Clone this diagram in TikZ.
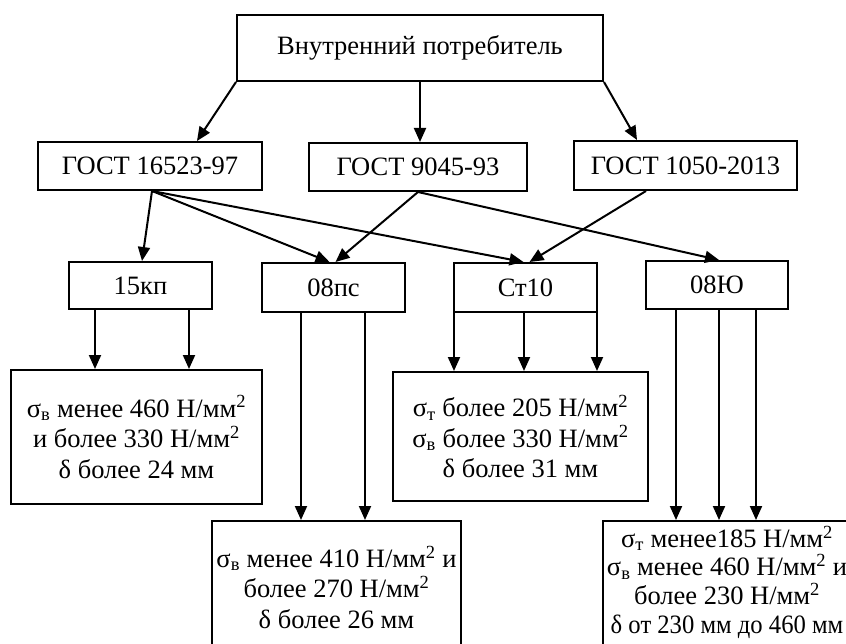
\documentclass[tikz,border=0pt]{standalone}
\usepackage{fontspec}
\usepackage{graphicx}
\setmainfont{Liberation Serif}
\usetikzlibrary{arrows.meta}
\begin{document}
\begin{tikzpicture}[x=1pt,y=-1pt,
  txt/.style={font=\fontsize{26.5}{30.5}\selectfont,align=center,inner sep=0pt},
  box/.style={txt,draw,line width=2pt},
  frame/.style={draw,line width=2pt,inner sep=0pt},
  arr/.style={line width=2pt,-{Triangle[length=14pt,width=12pt]}}]
\useasboundingbox (0,0) rectangle (846,644);
\clip (0,0) rectangle (846,644);
% top
\node[box,minimum width=366pt,minimum height=66pt] (top) at (420,48) {Внутренний потребитель};
% standards
\node[box,minimum width=224pt,minimum height=48pt] (g1) at (150,166) {ГОСТ 16523-97};
\node[box,minimum width=218pt,minimum height=48pt] (g2) at (418,167) {ГОСТ 9045-93};
\node[box,minimum width=223pt,minimum height=49pt] (g3) at (685.5,165.5) {ГОСТ 1050-2013};
% steels
\node[box,minimum width=143pt,minimum height=47pt] (s1) at (140.5,285.5) {15кп};
\node[box,minimum width=143pt,minimum height=49pt] (s2) at (333.5,287.5) {08пс};
\node[box,minimum width=143pt,minimum height=49pt] (s3) at (525.5,287.5) {Ст10};
\node[box,minimum width=142pt,minimum height=48pt] (s4) at (717,285) {08Ю};
% results
\node[box,minimum width=251pt,minimum height=134pt] (r1) at (136.5,437)
  {σ\textsubscript{в} менее 460 Н/мм\textsuperscript{2}\\и более 330 Н/мм\textsuperscript{2}\\δ более 24 мм};
\node[box,minimum width=255pt,minimum height=129pt] (r3) at (520.5,436.5)
  {σ\textsubscript{т} более 205 Н/мм\textsuperscript{2}\\σ\textsubscript{в} более 330 Н/мм\textsuperscript{2}\\δ более 31 мм};
\node[frame,minimum width=249pt,minimum height=140pt] (r2) at (336.5,591) {};
\node[txt] (r2t) at (336.5,587)
  {σ\textsubscript{в} менее 410 Н/мм\textsuperscript{2} и\\более 270 Н/мм\textsuperscript{2}\\δ более 26 мм};
\node[frame,minimum width=250pt,minimum height=140pt] (r4) at (728,591) {};
\node[txt,font=\fontsize{26.5}{28.7}\selectfont] (r4t) at (727,582)
  {σ\textsubscript{т} менее185 Н/мм\textsuperscript{2}\\σ\textsubscript{в} менее 460 Н/мм\textsuperscript{2} и\\более 230 Н/мм\textsuperscript{2}\\\scalebox{0.93}[1]{δ от 230 мм до 460 мм}};
% top arrows
\draw[arr] (top.south west) -- ([xshift=47pt]g1.north);
\draw[arr] (top.south) -- (top.south |- g2.north);
\draw[arr] (top.south east) -- ([xshift=-48.5pt]g3.north);
% standards to steels
\draw[arr] ([xshift=2pt]g1.south) -- ([xshift=1.5pt]s1.north);
\draw[arr] ([xshift=2pt]g1.south) -- ([xshift=-4pt]s2.north);
\draw[arr] ([xshift=2pt]g1.south) -- ([xshift=-2pt]s3.north);
\draw[arr] (g2.south) -- ([xshift=2pt]s2.north);
\draw[arr] (g2.south) -- ([xshift=2pt]s4.north);
\draw[arr] ([xshift=-39.5pt]g3.south) -- ([xshift=4pt]s3.north);
% steels to results
\draw[arr] ([xshift=-45.5pt]s1.south) -- ([xshift=-45.5pt]s1.south |- r1.north);
\draw[arr] ([xshift=48.5pt]s1.south) -- ([xshift=48.5pt]s1.south |- r1.north);
\draw[arr] ([xshift=-32.5pt]s2.south) -- ([xshift=-32.5pt]s2.south |- r2.north);
\draw[arr] ([xshift=31.5pt]s2.south) -- ([xshift=31.5pt]s2.south |- r2.north);
\draw[arr] ([xshift=1pt]s3.south west) -- ([xshift=1pt]s3.south west |- r3.north);
\draw[arr] ([xshift=-1.5pt]s3.south) -- ([xshift=-1.5pt]s3.south |- r3.north);
\draw[arr] ([xshift=-1pt]s3.south east) -- ([xshift=-1pt]s3.south east |- r3.north);
\draw[arr] ([xshift=-41pt]s4.south) -- ([xshift=-41pt]s4.south |- r4.north);
\draw[arr] ([xshift=2pt]s4.south) -- ([xshift=2pt]s4.south |- r4.north);
\draw[arr] ([xshift=39pt]s4.south) -- ([xshift=39pt]s4.south |- r4.north);
\end{tikzpicture}
\end{document}
